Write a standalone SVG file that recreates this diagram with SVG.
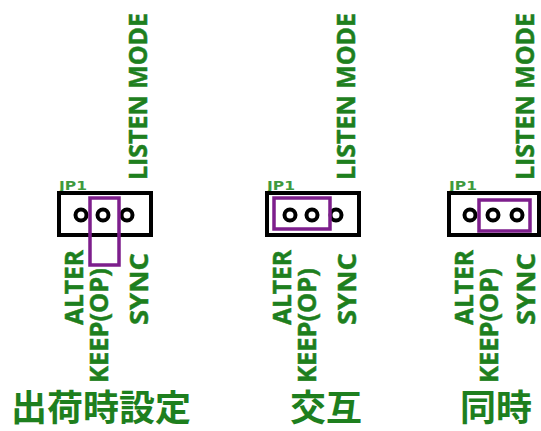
<svg xmlns="http://www.w3.org/2000/svg" width="541" height="431" viewBox="0 0 541 431">
<style>
.bg{fill:#ffffff}
.box{fill:#ffffff;stroke:#000000;stroke-width:4}
.pin{fill:#ffffff;stroke:#000000;stroke-width:4}
.jmp{fill:none;stroke:#7D1E8C;stroke-width:3.5}
.lbl{font-family:"Open Sans","DejaVu Sans",sans-serif;font-weight:bold;font-size:25px;fill:#1E7F1E;stroke:#1E7F1E;stroke-width:0.5}
.jp{font-family:"DejaVu Sans","Open Sans",sans-serif;font-weight:bold;font-size:12.5px;fill:#3E9A3E}
.cap{font-family:"Noto Sans CJK JP","Noto Sans CJK SC",sans-serif;font-weight:bold;font-size:36px;fill:#1E7F1E}
</style>
<rect class="bg" x="0" y="0" width="541" height="431"/>
<g id="jp1-default">
  <text class="lbl" transform="translate(147,180) rotate(-90)" textLength="167" lengthAdjust="spacingAndGlyphs">LISTEN MODE</text>
  <text class="jp" x="59" y="190" textLength="28" lengthAdjust="spacingAndGlyphs">JP1</text>
  <rect class="box" x="59" y="193" width="92" height="42"/>
  <circle class="pin" cx="81" cy="215" r="5.5"/>
  <circle class="pin" cx="103" cy="215" r="5.5"/>
  <circle class="pin" cx="127" cy="215" r="5.5"/>
  <rect class="jmp" x="90" y="198" width="29" height="67"/>
  <text class="lbl" transform="translate(83,325) rotate(-90)" textLength="75" lengthAdjust="spacingAndGlyphs">ALTER</text>
  <text class="lbl" transform="translate(108,383) rotate(-90)" textLength="115" lengthAdjust="spacingAndGlyphs">KEEP(OP)</text>
  <text class="lbl" transform="translate(148,325) rotate(-90)" textLength="72" lengthAdjust="spacingAndGlyphs">SYNC</text>
  <text class="cap" x="11" y="421">出荷時設定</text>
</g>
<g id="jp1-alter">
  <text class="lbl" transform="translate(355,180) rotate(-90)" textLength="167" lengthAdjust="spacingAndGlyphs">LISTEN MODE</text>
  <text class="jp" x="267" y="190" textLength="28" lengthAdjust="spacingAndGlyphs">JP1</text>
  <rect class="box" x="267" y="193" width="92" height="42"/>
  <circle class="pin" cx="290" cy="215" r="5.5"/>
  <circle class="pin" cx="312" cy="215" r="5.5"/>
  <circle class="pin" cx="336" cy="215" r="5.5"/>
  <rect class="jmp" x="274" y="198" width="56" height="31"/>
  <text class="lbl" transform="translate(291,325) rotate(-90)" textLength="75" lengthAdjust="spacingAndGlyphs">ALTER</text>
  <text class="lbl" transform="translate(316,383) rotate(-90)" textLength="115" lengthAdjust="spacingAndGlyphs">KEEP(OP)</text>
  <text class="lbl" transform="translate(356,325) rotate(-90)" textLength="72" lengthAdjust="spacingAndGlyphs">SYNC</text>
  <text class="cap" x="290" y="421">交互</text>
</g>
<g id="jp1-sync">
  <text class="lbl" transform="translate(534,180) rotate(-90)" textLength="167" lengthAdjust="spacingAndGlyphs">LISTEN MODE</text>
  <text class="jp" x="449" y="190" textLength="28" lengthAdjust="spacingAndGlyphs">JP1</text>
  <rect class="box" x="449" y="193" width="90" height="42"/>
  <circle class="pin" cx="470" cy="215" r="5.5"/>
  <circle class="pin" cx="493" cy="215" r="5.5"/>
  <circle class="pin" cx="517" cy="215" r="5.5"/>
  <rect class="jmp" x="479" y="200" width="51" height="31"/>
  <text class="lbl" transform="translate(473,325) rotate(-90)" textLength="75" lengthAdjust="spacingAndGlyphs">ALTER</text>
  <text class="lbl" transform="translate(498,383) rotate(-90)" textLength="115" lengthAdjust="spacingAndGlyphs">KEEP(OP)</text>
  <text class="lbl" transform="translate(535,325) rotate(-90)" textLength="72" lengthAdjust="spacingAndGlyphs">SYNC</text>
  <text class="cap" x="460" y="421">同時</text>
</g>
</svg>
